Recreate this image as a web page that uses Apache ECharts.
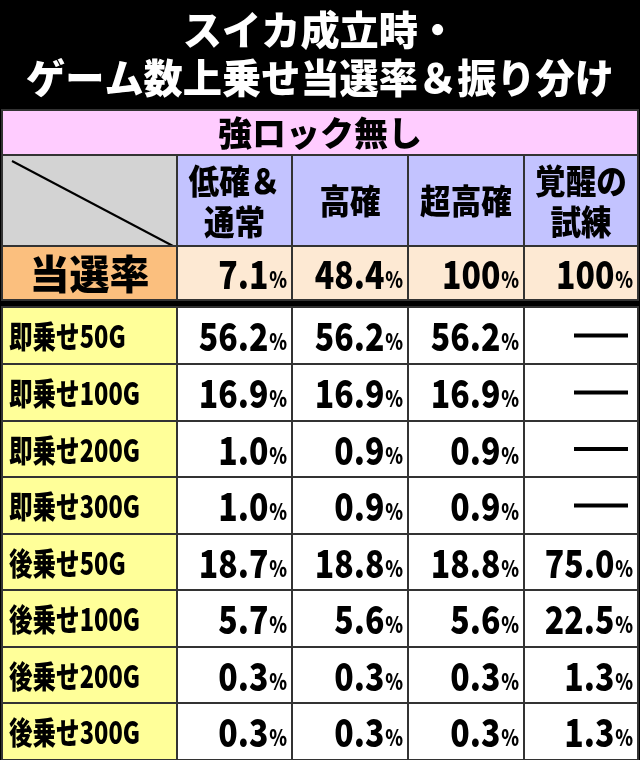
<!DOCTYPE html><html><head><meta charset="utf-8"><script src="https://cdn.jsdelivr.net/npm/echarts@6/dist/echarts.min.js"></script>
<style>html,body{margin:0;background:#000}#c{width:640px;height:760px}</style></head><body><div id="c"></div><script>
const titleLines=['スイカ成立時・','ゲーム数上乗せ当選率＆振り分け'];
const sectionTitle='強ロック無し';
const columns=['低確＆\n通常','高確','超高確','覚醒の\n試練'];
const rateLabel='当選率';
const rates=['7.1','48.4','100','100'];
const rowLabels=['即乗せ50G','即乗せ100G','即乗せ200G','即乗せ300G','後乗せ50G','後乗せ100G','後乗せ200G','後乗せ300G'];
const colLow=['56.2','16.9','1.0','1.0','18.7','5.7','0.3','0.3'];
const colHigh=['56.2','16.9','0.9','0.9','18.8','5.6','0.3','0.3'];
const colSuper=['56.2','16.9','0.9','0.9','18.8','5.6','0.3','0.3'];
const colTrial=['—','—','—','—','75.0','22.5','1.3','1.3'];

// layout
const colX=[2,177,292,408,524,638];
const rowY=[155,246,300,307,364,421,477,534,590,647,703,760];
const cells=[];
cells.push({x0:2,x1:638,y0:110,y1:155,fill:'#ffccff',text:sectionTitle,kind:'sec',align:'center'});
cells.push({x0:colX[0],x1:colX[1],y0:rowY[0],y1:rowY[1],fill:'#d3d3d3',kind:'diag'});
columns.forEach((c,i)=>cells.push({x0:colX[i+1],x1:colX[i+2],y0:rowY[0],y1:rowY[1],fill:'#c3c3ff',text:c,kind:'head',align:'center'}));
cells.push({x0:colX[0],x1:colX[1],y0:rowY[1],y1:rowY[2],fill:'#fbbf7e',text:rateLabel,kind:'rl',align:'center'});
rates.forEach((r,i)=>cells.push({x0:colX[i+1],x1:colX[i+2],y0:rowY[1],y1:rowY[2],fill:'#fde9d3',text:r,kind:'num'}));
const cols=[colLow,colHigh,colSuper,colTrial];
rowLabels.forEach((l,j)=>{
  const y0=rowY[3+j],y1=rowY[4+j];
  cells.push({x0:colX[0],x1:colX[1],y0,y1,fill:'#ffff99',text:l,kind:'label',align:'left'});
  cols.forEach((c,i)=>cells.push({x0:colX[i+1],x1:colX[i+2],y0,y1,fill:'#ffffff',text:c[j],kind:c[j]==='—'?'dash':'num'}));
});
const F='"Noto Sans CJK JP"';
const chart=echarts.init(document.getElementById('c'));
chart.setOption({
  backgroundColor:'#000',animation:false,
  graphic:titleLines.map((t,i)=>({type:'text',x:320,y:[30,78][i],scaleX:0.98,style:{text:t,align:'center',verticalAlign:'middle',fill:'#fff',fontFamily:F,fontWeight:900,fontSize:40}})),
  grid:{left:0,right:0,top:0,bottom:0},
  xAxis:{type:'value',min:0,max:640,show:false},
  yAxis:{type:'value',min:0,max:760,inverse:true,show:false},
  series:[{type:'custom',data:cells.map((c,i)=>[c.x0,c.y0,c.x1,c.y1,i]),
    renderItem:(p,api)=>{
      const c=cells[api.value(4)];
      const a=api.coord([c.x0,c.y0]),b=api.coord([c.x1,c.y1]);
      const w=b[0]-a[0],h=b[1]-a[1];
      const ch=[{type:'rect',shape:{x:a[0],y:a[1],width:w,height:h},style:{fill:c.fill,stroke:'#333',lineWidth:2}}];
      if(c.kind==='diag') ch.push({type:'line',shape:{x1:a[0]+10,y1:a[1]+6,x2:b[0]-4,y2:b[1]},style:{stroke:'#000',lineWidth:2}});
      else if(c.kind==='dash') ch.push({type:'rect',shape:{x:b[0]-64,y:a[1]+h/2-2,width:54,height:4},style:{fill:'#000'}});
      else if(c.kind==='num') ch.push({type:'text',x:b[0]-5,y:a[1]+h/2+1,scaleX:0.82,style:{text:'{n|'+c.text+'}{p|%}',align:'right',verticalAlign:'middle',rich:{n:{fontFamily:F,fontWeight:900,fontSize:39,fill:'#000'},p:{fontFamily:F,fontWeight:900,fontSize:22,fill:'#000',padding:[11,0,0,1]}}}});
      else {
        const fs={label:31,rl:40,head:34,sec:34}[c.kind];
        const sx={label:0.76,rl:1,head:0.9,sec:1}[c.kind];
        const x=c.align==='left'?a[0]+7:a[0]+w/2;
        ch.push({type:'text',x,y:a[1]+h/2+1,scaleX:sx,style:{text:c.text,align:c.align,verticalAlign:'middle',fontFamily:F,fontWeight:900,fontSize:fs,lineHeight:fs*1.22,fill:'#000'}});
      }
      return {type:'group',children:ch};
    }}]
});
</script></body></html>
